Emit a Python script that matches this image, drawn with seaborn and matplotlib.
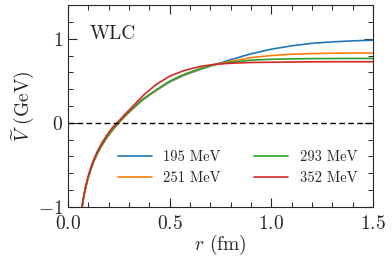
import matplotlib
matplotlib.use("Agg")
import matplotlib.pyplot as plt
from matplotlib.ticker import MultipleLocator
import seaborn as sns
import pandas as pd

# r values (fm)
r = [0.065, 0.075, 0.085, 0.095, 0.11, 0.125, 0.145, 0.165, 0.19, 0.215,
     0.245, 0.28, 0.32, 0.37, 0.43, 0.5, 0.57, 0.65, 0.72, 0.8,
     0.9, 1.0, 1.1, 1.2, 1.3, 1.4, 1.5]

# V(r) in GeV for each temperature
v_195 = [-1.07, -0.912, -0.789, -0.69, -0.568, -0.47, -0.363, -0.275, -0.181, -0.099,
         -0.014, 0.077, 0.17, 0.278, 0.38, 0.485, 0.565, 0.635, 0.69, 0.75,
         0.82, 0.875, 0.915, 0.945, 0.962, 0.974, 0.982]
v_251 = [-1.068, -0.911, -0.788, -0.688, -0.566, -0.468, -0.36, -0.272, -0.178, -0.096,
         -0.011, 0.08, 0.174, 0.28, 0.38, 0.49, 0.57, 0.64, 0.69, 0.73,
         0.775, 0.80, 0.815, 0.823, 0.827, 0.829, 0.83]
v_293 = [-1.065, -0.91, -0.786, -0.686, -0.563, -0.465, -0.357, -0.268, -0.174, -0.092,
         -0.007, 0.083, 0.178, 0.285, 0.385, 0.495, 0.575, 0.645, 0.69, 0.72,
         0.745, 0.755, 0.76, 0.763, 0.764, 0.765, 0.765]
v_352 = [-1.06, -0.9, -0.775, -0.67, -0.545, -0.445, -0.335, -0.245, -0.15, -0.065,
         0.01, 0.10, 0.20, 0.325, 0.45, 0.555, 0.62, 0.67, 0.695, 0.708,
         0.717, 0.72, 0.723, 0.725, 0.726, 0.726, 0.726]

labels = ["195 MeV", "251 MeV", "293 MeV", "352 MeV"]
colors = ["#1f77b4", "#ff7f0e", "#2ca02c", "#d62728"]

frames = []
for lab, vals in zip(labels, [v_195, v_251, v_293, v_352]):
    frames.append(pd.DataFrame({"r": r, "V": vals, "T": lab}))
df = pd.concat(frames, ignore_index=True)

sns.set_style("ticks")
plt.rcParams["font.family"] = "serif"
plt.rcParams["font.serif"] = ["cmr10", "DejaVu Serif"]
plt.rcParams["mathtext.fontset"] = "cm"
plt.rcParams["axes.formatter.use_mathtext"] = True

fig = plt.figure(figsize=(3.92, 2.64), dpi=100)
ax = fig.add_axes([0.1735, 0.216, 0.778, 0.765])

sns.lineplot(data=df, x="r", y="V", hue="T", palette=colors, linewidth=1.2,
             ax=ax, sort=False, estimator=None)
ax.axhline(0, color="black", linestyle="--", linewidth=1.0, dashes=(4, 2.5))

ax.set_xlim(0, 1.5)
ax.set_ylim(-1, 1.4)
ax.xaxis.set_major_locator(MultipleLocator(0.5))
ax.xaxis.set_minor_locator(MultipleLocator(0.1))
ax.yaxis.set_major_locator(MultipleLocator(1))
ax.yaxis.set_minor_locator(MultipleLocator(0.2))
ax.tick_params(which="both", direction="in", top=True, right=True, labelsize=14)
ax.tick_params(which="major", length=6.5, width=0.8)
ax.tick_params(which="minor", length=3.5, width=0.7)
ax.tick_params(axis="x", which="major", pad=6)
for s in ax.spines.values():
    s.set_linewidth(0.8)

ax.set_xlabel(r"$r$ (fm)", fontsize=14, labelpad=0)
ax.set_ylabel(r"$\widetilde{V}$ (GeV)", fontsize=14, labelpad=1)
ax.text(0.072, 0.90, "WLC", transform=ax.transAxes, fontsize=14, va="top")

ax.legend(ncol=2, frameon=False, fontsize=10.5, loc="lower center",
          bbox_to_anchor=(0.556, 0.045), handlelength=2.33, handletextpad=0.8,
          columnspacing=2.3, labelspacing=0.45)

fig.savefig("out.png", dpi=100)
